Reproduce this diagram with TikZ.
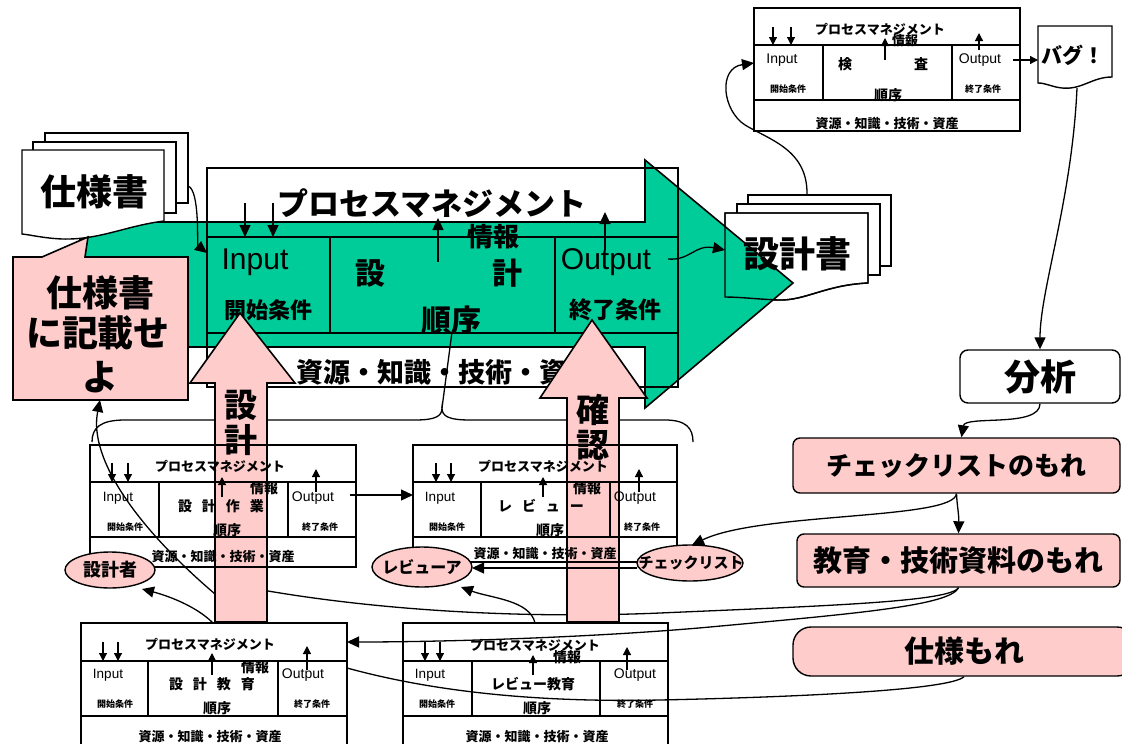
\documentclass[tikz,border=0pt]{standalone}
\usepackage{fontspec}
\setmainfont{Liberation Sans}
\newfontfamily\jpf{Noto Sans CJK JP}
\newfontfamily\latf{Liberation Sans}
\usetikzlibrary{arrows.meta}
\definecolor{grn}{HTML}{00CC99}
\definecolor{pnk}{HTML}{FFCCCC}
\tikzset{
 bx/.style={draw=black, line width=1.7pt},
 jt/.style={inner sep=0pt, font=\jpf\bfseries},
 lt/.style={inner sep=0pt, font=\latf},
 con/.style={draw=black, line width=1.3pt, -{Triangle[length=12pt,width=11pt]}},
 conn/.style={draw=black, line width=1.3pt},
 sar/.style={draw=black, line width=1.2pt, -{Triangle[length=8pt,width=8pt]}},
 bar/.style={draw=black, line width=1.4pt, -{Triangle[length=12pt,width=11pt]}},
 doc/.style={draw=black, line width=1.4pt, fill=white},
 pinkbox/.style={draw=black, line width=1.4pt, fill=pnk, rounded corners=7pt},
}
\newcommand\jtxt[4]{\node[jt] (#1) at (#2) {\fontsize{#3}{#3}\selectfont #4};}
\newcommand\ltxt[4]{\node[lt] (#1) at (#2) {\fontsize{#3}{#3}\selectfont #4};}
\newcommand\pbox[9]{%
 \draw[bx] (#2,#3) coordinate (#1nw) rectangle (#4,#5) coordinate (#1se);
 \draw[bx] (#2,#6) -- (#4,#6) (#2,#7) -- (#4,#7) (#8,#6) -- (#8,#7) (#9,#6) -- (#9,#7);}
\begin{document}
\begin{tikzpicture}[x=1pt,y=-1pt]
\useasboundingbox (0,0) rectangle (1122,744);
\clip (0,0) rectangle (1122,744);

% ---- design document (output) pages
\draw[doc] (748,195) rectangle (891,266);
\draw[doc] (737,204) rectangle (880,275);
\draw[doc] (725,213) -- (868,213) -- (868,283) .. controls (825,285) and (805,301) .. (778,300) .. controls (755,299) and (740,297) .. (725,297) -- cycle;

% ---- big green arrow
\draw[line width=1.6pt, fill=grn] (80,222) -- (645,222) -- (645,160) -- (793,283) -- (645,408) -- (645,347) -- (80,347) -- cycle;

% front page outline over the arrow
\draw[line width=1.4pt] (725,213) -- (868,213) -- (868,283) .. controls (825,285) and (805,301) .. (778,300) .. controls (755,299) and (740,297) .. (725,297) -- cycle;
\jtxt{sekkeisho}{797,254}{36}{設計書}

% ---- main process box
\draw[bx] (207,168) coordinate (mnw) rectangle (678,387) coordinate (mse);
\draw[bx] (207,237) -- (678,237) (207,333) -- (678,333) (330,237) -- (330,333) (555,237) -- (555,333);
\jtxt{mpm}{432,203}{31}{プロセスマネジメント}
\jtxt{mres}{445,372}{27}{資源・知識・技術・資産}
\ltxt{min}{255,262}{30}{Input}
\jtxt{mstart}{268,310}{22}{開始条件}
\jtxt{ms1}{370,273}{30}{設}
\jtxt{ms2}{507,273}{30}{計}
\jtxt{minfo}{493,237}{26}{情報}
\jtxt{mord}{451,320}{30}{順序}
\ltxt{mout}{606,262}{30}{Output}
\jtxt{mend}{615,310}{23}{終了条件}
\draw[bar] (245,203) -- (245,237);
\draw[bar] (273,203) -- (273,237);
\draw[bar] (438,262) -- (438,218);
\draw[bar] (605,250) -- (605,212);

% ---- specification pages
\draw[doc] (45,133) rectangle (188,203);
\draw[doc] (33,142) rectangle (176,213);
\draw[doc] (22,150) -- (164,150) -- (164,221) .. controls (125,226) and (100,240) .. (62,239) .. controls (42,238) and (32,235) .. (22,234) -- cycle;
\jtxt{shiyousho}{94,192}{36}{仕様書}

% ---- callout
\draw[line width=1.6pt, fill=pnk] (13,257) -- (42,257) -- (88,237) -- (85,257) -- (188,257) -- (188,400) -- (13,400) -- cycle;
\coordinate (callb) at (100,400);
\jtxt{cl1}{100,293}{36}{仕様書}
\jtxt{cl2}{98,333}{36}{に記載せ}
\jtxt{cl3}{100,377}{36}{よ}

% ---- inspection box (top right)
\draw[bx, fill=white] (754,8) rectangle (1020,131);
\pbox{ck}{754}{8}{1020}{131}{45}{100}{823}{952}
\jtxt{ckpm}{880,29}{13}{プロセスマネジメント}
\jtxt{ckinfo}{905,41}{13}{情報}
\ltxt{ckin}{782,60}{14}{Input}
\jtxt{ckst}{788,89}{9}{開始条件}
\jtxt{ckm1}{845,64}{14}{検}
\jtxt{ckm2}{921,64}{14}{査}
\jtxt{ckord}{888,95}{14}{順序}
\ltxt{ckout}{980,60}{14}{Output}
\jtxt{ckend}{983,89}{9}{終了条件}
\jtxt{ckres}{887,124}{13}{資源・知識・技術・資産}
\draw[sar] (773,27) -- (773,45);
\draw[sar] (791,27) -- (791,45);
\draw[sar] (885,60) -- (885,38);
\draw[sar] (979,50) -- (979,33);

% ---- bug document
\draw[doc] (1038,26) -- (1112,26) -- (1112,77) .. controls (1092,77) and (1082,90) .. (1062,88) .. controls (1052,87) and (1046,83) .. (1038,83) -- cycle;
\jtxt{bug}{1073,55}{21}{バグ！}
\draw[sar] (1013,60) -- (1038,60);

% ---- right column
\node[draw, line width=1.4pt, fill=white, rounded corners=8pt, minimum width=160pt, minimum height=53pt, jt] (bunseki) at (1040,376.5) {\fontsize{36}{36}\selectfont 分析};
\node[pinkbox, minimum width=327pt, minimum height=55pt, jt] (cklmore) at (956.5,465.5) {\fontsize{26}{26}\selectfont チェックリストのもれ};
\node[pinkbox, minimum width=323pt, minimum height=53pt, jt] (edu) at (958.5,560.5) {\fontsize{29}{29}\selectfont 教育・技術資料のもれ};
\node[pinkbox, rounded corners=18pt, minimum width=342pt, minimum height=49pt, jt] (spmore) at (964,651.5) {\fontsize{30}{30}\selectfont 仕様もれ};

% ---- connectors
\draw[con] (188,186) .. controls (200,190) and (197,245) .. (207,253);
\draw[con] (668,259) .. controls (690,261) and (695,244) .. (725,250);
\draw[con] (807,195) .. controls (808,150) and (770,140) .. (745,125) .. controls (722,110) and (718,68) .. (754,63);
\draw[con] (1077,88) .. controls (1072,200) and (1040,290) .. (bunseki.north);
\draw[con] (bunseki.south) .. controls (1040,428) and (965,415) .. ([xshift=5pt]cklmore.north);
\draw[con] (cklmore.south) .. controls (957,505) and (959,515) .. (edu.north);
\draw[con] (cklmore.south) .. controls (954,520) and (760,512) .. (692,545);
\draw[con] (edu.south) .. controls (950,606) and (850,614) .. (710,627) .. controls (600,637) and (450,642) .. (347,642);
\draw[con] (edu.south) .. controls (950,602) and (820,606) .. (660,613) .. controls (520,619) and (380,610) .. (268,591) -- (215,594) .. controls (140,530) and (88,460) .. (callb);
\draw[conn] (spmore.south) .. controls (950,690) and (800,697) .. (660,700) .. controls (520,703) and (420,688) .. (347,668);
\draw[conn] (452,332) -- (442,408);
\draw[conn] (92,442) .. controls (92,428) and (100,420) .. (125,420) -- (415,420) .. controls (436,420) and (442,416) .. (442,408) .. controls (442,416) and (448,420) .. (470,420) -- (665,420) .. controls (686,420) and (693,428) .. (693,442);

% ---- pink arrows
\draw[line width=1.6pt, fill=pnk] (215,622) -- (215,383) -- (190,383) -- (240,313) -- (295,383) -- (267,383) -- (267,622) -- cycle;
\draw[line width=1.6pt, fill=pnk] (567,622) -- (567,398) -- (540,398) -- (592,320) -- (647,398) -- (619,398) -- (619,622) -- cycle;
\jtxt{pa1}{241,405}{33}{設}
\jtxt{pa2}{241,440}{33}{計}
\jtxt{pb1}{593,410}{33}{確}
\jtxt{pb2}{593,445}{33}{認}

% ---- lower process boxes
\pbox{kk}{90}{445}{356}{567}{482}{537}{159}{288}
\jtxt{kkpm}{220,466}{13}{プロセスマネジメント}
\ltxt{kkin}{118,498}{13.5}{Input}
\jtxt{kkst}{125,527}{9}{開始条件}
\jtxt{kkmain}{221,506}{14}{設\hspace{10pt}計\hspace{10pt}作\hspace{10pt}業}
\jtxt{kkinfo}{264,488}{14}{情報}
\jtxt{kkord}{227,530}{14}{順序}
\ltxt{kkout}{313,498}{14}{Output}
\jtxt{kkend}{320,527}{9}{終了条件}
\jtxt{kkres}{223,557}{13}{資源・知識・技術・資産}
\draw[sar] (112,463) -- (112,482);
\draw[sar] (128,463) -- (128,482);
\draw[sar] (222,497) -- (222,477);
\draw[sar] (316,492) -- (316,469);

\pbox{rv}{413}{445}{677}{562}{482}{537}{481}{610}
\jtxt{rvpm}{543,466}{13}{プロセスマネジメント}
\ltxt{rvin}{440,498}{13.5}{Input}
\jtxt{rvst}{447,527}{9}{開始条件}
\jtxt{rvmain}{541,506}{14}{レ\hspace{10pt}ビ\hspace{10pt}ュ\hspace{10pt}ー}
\jtxt{rvinfo}{587,488}{14}{情報}
\jtxt{rvord}{550,530}{14}{順序}
\ltxt{rvout}{635,498}{14}{Output}
\jtxt{rvend}{642,527}{9}{終了条件}
\jtxt{rvres}{545,554}{13}{資源・知識・技術・資産}
\draw[sar] (436,463) -- (436,482);
\draw[sar] (451,463) -- (451,482);
\draw[sar] (543,497) -- (543,477);
\draw[sar] (639,492) -- (639,469);
\draw[con] (350,495) -- (413,495);

\pbox{ke}{81}{623}{347}{760}{661}{716}{148}{278}
\jtxt{kepm}{210,644}{13}{プロセスマネジメント}
\ltxt{kein}{108,675}{13.5}{Input}
\jtxt{kest}{115,704}{9}{開始条件}
\jtxt{kemain}{212,684}{14}{設\hspace{10pt}計\hspace{10pt}教\hspace{10pt}育}
\jtxt{keinfo}{255,667}{14}{情報}
\jtxt{keord}{217,708}{14}{順序}
\ltxt{keout}{303,675}{14}{Output}
\jtxt{keend}{312,704}{9}{終了条件}
\jtxt{keres}{210,737}{13}{資源・知識・技術・資産}
\draw[sar] (103,642) -- (103,661);
\draw[sar] (118,642) -- (118,661);
\draw[sar] (212,675) -- (212,653);
\draw[sar] (307,670) -- (307,646);

\pbox{re}{403}{623}{668}{760}{661}{716}{472}{600}
\jtxt{repm}{535,645}{13}{プロセスマネジメント}
\jtxt{reinfo}{567,657}{14}{情報}
\ltxt{rein}{430,675}{13.5}{Input}
\jtxt{rest}{437,704}{9}{開始条件}
\jtxt{remain}{533,684}{14}{レビュー教育}
\jtxt{reord}{537,708}{14}{順序}
\ltxt{reout}{635,675}{14}{Output}
\jtxt{reend}{635,704}{9}{終了条件}
\jtxt{reres}{537,737}{13}{資源・知識・技術・資産}
\draw[sar] (425,642) -- (425,661);
\draw[sar] (440,642) -- (440,661);
\draw[sar] (533,675) -- (533,655);
\draw[sar] (627,670) -- (627,647);

% ---- role ellipses
\draw[fill=pnk, line width=1.4pt] (110,570) ellipse [x radius=45pt, y radius=18pt];
\jtxt{sekkeisha}{110,570}{18}{設計者}
\draw[fill=pnk, line width=1.4pt] (422,567) ellipse [x radius=50pt, y radius=20pt];
\jtxt{reviewer}{422,567}{16}{レビューア}
\draw[fill=pnk, line width=1.4pt] (690,563) ellipse [x radius=53pt, y radius=18pt];
\jtxt{checklist}{691,563}{15}{チェックリスト}

\draw[con] (637,568) -- (472,568);
\draw[con] (213,623) .. controls (195,605) and (165,595) .. (142,589);
\draw[con] (535,623) .. controls (530,600) and (490,598) .. (461,587);
\end{tikzpicture}
\end{document}
